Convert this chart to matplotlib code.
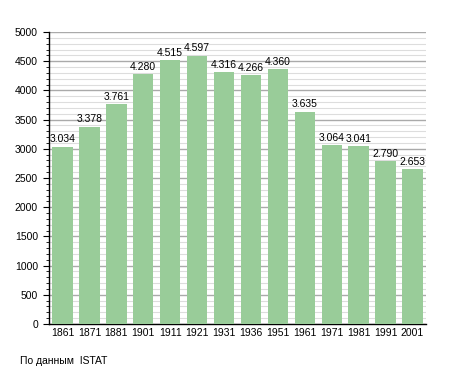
import matplotlib.pyplot as plt
from matplotlib.ticker import MultipleLocator

years = ["1861", "1871", "1881", "1901", "1911", "1921", "1931",
         "1936", "1951", "1961", "1971", "1981", "1991", "2001"]
population = [3034, 3378, 3761, 4280, 4515, 4597, 4316,
              4266, 4360, 3635, 3064, 3041, 2790, 2653]
labels = ["3.034", "3.378", "3.761", "4.280", "4.515", "4.597", "4.316",
          "4.266", "4.360", "3.635", "3.064", "3.041", "2.790", "2.653"]

fig = plt.figure(figsize=(4.55, 3.73), dpi=100)
ax = fig.add_axes([49 / 455, 1 - 324 / 373, 377 / 455, 292 / 373])

x = range(len(years))
ax.bar(x, population, width=0.76, color="#99cc99", zorder=3)
for i, (v, t) in enumerate(zip(population, labels)):
    ax.text(i, v + 40, t, ha="center", va="bottom", fontsize=7.5,
            family="Liberation Sans", zorder=4)

ax.set_ylim(0, 5000)
ax.set_xlim(-0.5, len(years) - 0.5)
ax.yaxis.set_major_locator(MultipleLocator(500))
ax.yaxis.set_minor_locator(MultipleLocator(100))
ax.grid(axis="y", which="major", color="#aaaaaa", linewidth=1, zorder=0)
ax.grid(axis="y", which="minor", color="#dddddd", linewidth=0.8, zorder=0)

ax.set_xticks(list(x))
ax.set_xticklabels(years)
ax.tick_params(axis="x", length=0, pad=3, labelsize=7.5)
ax.tick_params(axis="y", which="major", length=4, labelsize=7.5, pad=4)
ax.tick_params(axis="y", which="minor", length=2)
for lab in ax.get_xticklabels() + ax.get_yticklabels():
    lab.set_family("Liberation Sans")

for s in ["top", "right"]:
    ax.spines[s].set_visible(False)
ax.spines["left"].set_linewidth(1)
ax.spines["bottom"].set_linewidth(1)

fig.text(20 / 455, 1 - 361 / 373, "По данным  ISTAT", fontsize=7.5,
         family="Liberation Sans", va="center")

fig.savefig("out.png", dpi=100)
